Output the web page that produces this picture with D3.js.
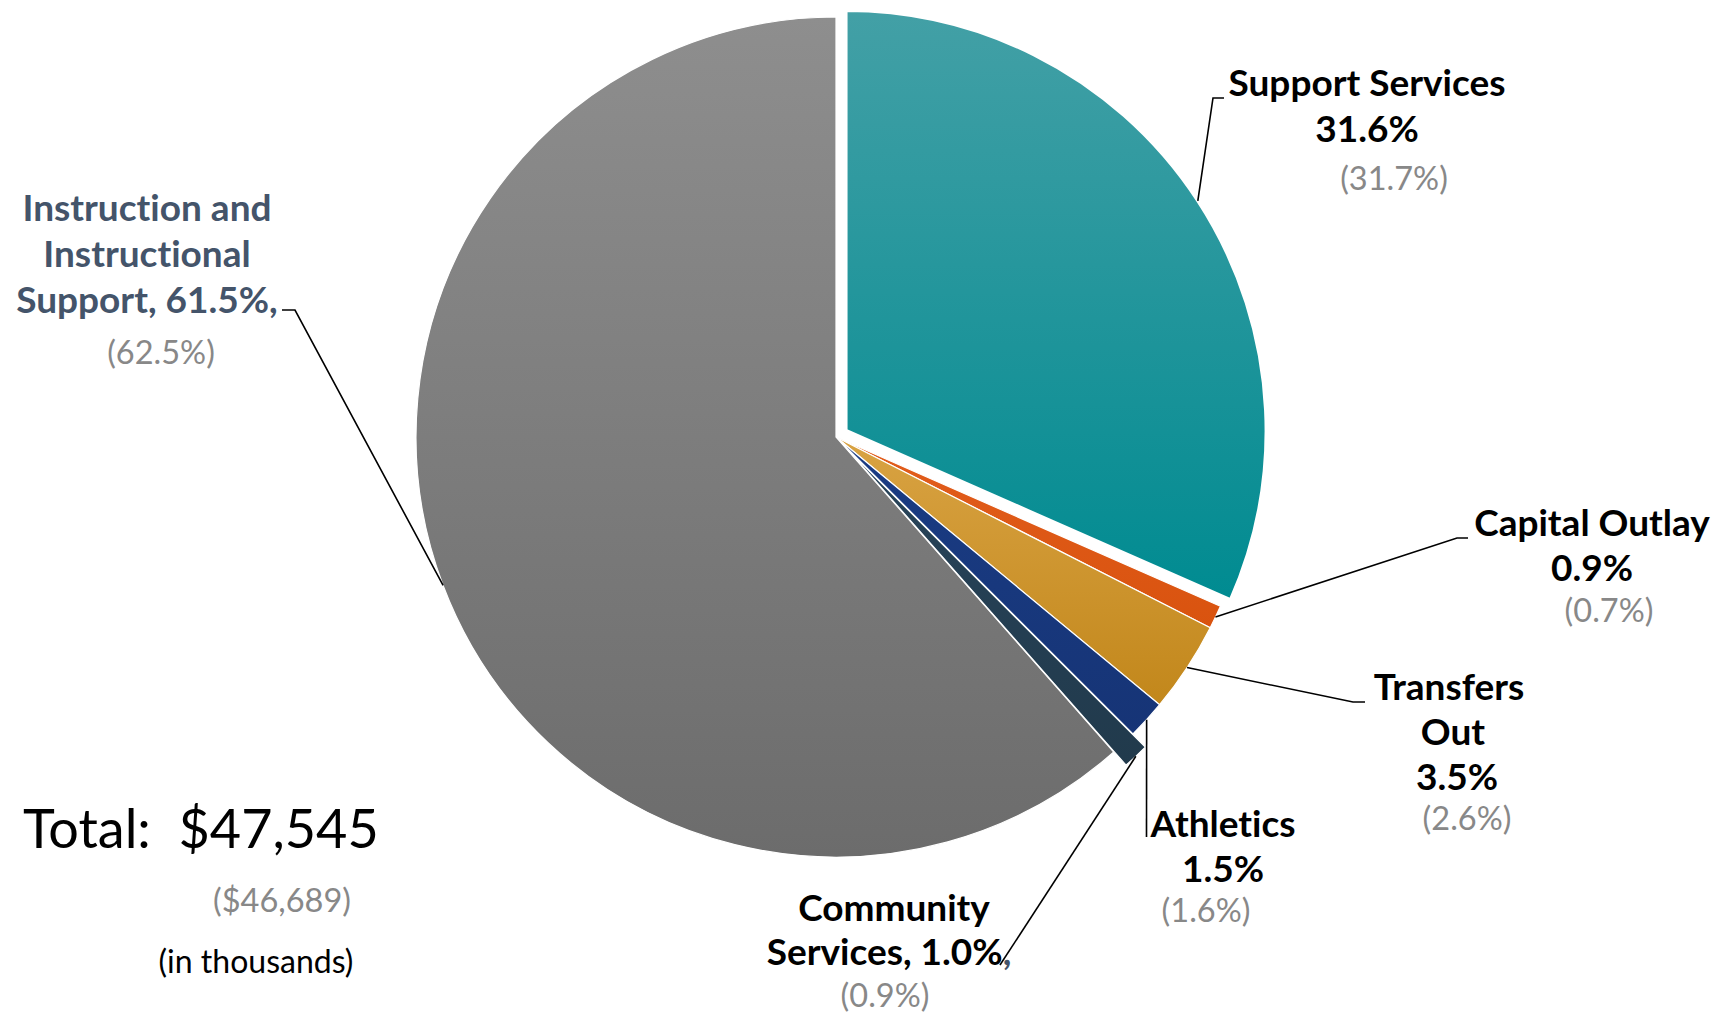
<!DOCTYPE html>
<html>
<head>
<meta charset="utf-8">
<script src="https://cdn.jsdelivr.net/npm/d3@7"></script>
<style>
  html, body { margin: 0; padding: 0; background: #fff; }
  svg { display: block; font-family: Lato, 'Open Sans', sans-serif; font-variant-ligatures: none; font-feature-settings: "liga" 0; }
  .lbl-bold { font-weight: 700; font-size: 37px; }
  .lbl-prior { font-size: 32.5px; fill: #888888; }
  .leader { fill: none; stroke: #000; stroke-width: 1.6; }
</style>
</head>
<body>
<div id="chart"></div>
<script>
// slices, clockwise from 12 o'clock
const categories = ['Support Services', 'Capital Outlay', 'Transfers Out', 'Athletics', 'Community Services', 'Instruction and Instructional Support'];
const currentPct = [31.6, 0.9, 3.5, 1.5, 1.0, 61.5];
const priorPct = [31.7, 0.7, 2.6, 1.6, 0.9, 62.5];
const totalCurrent = 47545;
const totalPrior = 46689;
const unitNote = '(in thousands)';

const width = 1735;
const height = 1015;
const cx = 836;
const cy = 437;
const radius = 420;

// gradient stops per slice (top -> bottom)
const sliceFills = [
  ['#43a0a6', '#008b91'],
  ['#e25d1c', '#d9530f'],
  ['#d9a343', '#c2871b'],
  ['#1a3c84', '#163476'],
  ['#28445a', '#213a4c'],
  ['#8e8e8e', '#6c6c6c'],
];

// label placement: text lines with centre x and baseline, elbow points of leader
const fmt = (v) => `${v.toFixed(1)}%`;
const labelLayout = [
  {
    lines: (i) => [
      { t: categories[i], x: 1367, y: 96 },
      { t: fmt(currentPct[i]), x: 1367, y: 142 },
    ],
    prior: { x: 1394, y: 190 },
    elbow: [[1213, 98], [1224, 98]],
    explode: 12,
  },
  {
    lines: (i) => [
      { t: categories[i], x: 1592, y: 536 },
      { t: fmt(currentPct[i]), x: 1592, y: 581 },
    ],
    prior: { x: 1609, y: 622 },
    elbow: [[1457, 538], [1468, 538]],
  },
  {
    lines: (i) => [
      { t: 'Transfers', x: 1449, y: 700 },
      { t: 'Out', x: 1453, y: 745 },
      { t: fmt(currentPct[i]), x: 1457, y: 790 },
    ],
    prior: { x: 1467, y: 830 },
    elbow: [[1353, 702], [1365, 702]],
  },
  {
    lines: (i) => [
      { t: categories[i], x: 1223, y: 837 },
      { t: fmt(currentPct[i]), x: 1223, y: 882 },
    ],
    prior: { x: 1206, y: 922 },
    elbow: [[1146.5, 837]],
  },
  {
    lines: (i) => [
      { t: 'Community', x: 894, y: 921 },
      { t: `Services, ${fmt(currentPct[i])}`, x: 889, y: 965, tail: ',' },
    ],
    prior: { x: 885, y: 1007 },
    elbow: [[1000, 965]],
    explode: 18,
  },
  {
    lines: (i) => [
      { t: 'Instruction and', x: 147, y: 221 },
      { t: 'Instructional', x: 147, y: 267 },
      { t: `Support, ${fmt(currentPct[i])},`, x: 147, y: 313 },
    ],
    prior: { x: 161, y: 364 },
    elbow: [[295, 310], [282, 310]],
    color: '#44546a',
  },
];

const slices = categories.map((name, i) => ({ name, value: currentPct[i], prior: priorPct[i], i }));

const svg = d3.select('#chart')
  .append('svg')
  .attr('width', width)
  .attr('height', height);

const defs = svg.append('defs');
sliceFills.forEach((stops, i) => {
  const g = defs.append('linearGradient')
    .attr('id', `fill-${i}`)
    .attr('x1', 0).attr('y1', 0)
    .attr('x2', 0).attr('y2', 1);
  g.append('stop').attr('offset', '0%').attr('stop-color', stops[0]);
  g.append('stop').attr('offset', '100%').attr('stop-color', stops[1]);
});

const pie = d3.pie()
  .sort(null)
  .value((d) => d.value);

const arcs = pie(slices);

const arc = d3.arc()
  .innerRadius(0)
  .outerRadius(radius);

const edgeArc = d3.arc()
  .innerRadius(radius)
  .outerRadius(radius);

const offsetOf = (d) => {
  const e = labelLayout[d.index].explode || 0;
  const a = (d.startAngle + d.endAngle) / 2;
  return [Math.sin(a) * e, -Math.cos(a) * e];
};

const pieGroup = svg.append('g')
  .attr('transform', `translate(${cx},${cy})`);

// exploded slices drawn last so they sit on top
const drawOrder = [...arcs].sort((a, b) => (labelLayout[a.index].explode || 0) - (labelLayout[b.index].explode || 0));

pieGroup.selectAll('path.slice')
  .data(drawOrder)
  .join('path')
  .attr('class', 'slice')
  .attr('transform', (d) => `translate(${offsetOf(d)})`)
  .attr('d', arc)
  .attr('fill', (d) => `url(#fill-${d.index})`)
  .attr('stroke', '#fff')
  .attr('stroke-width', (d) => (d.index === 0 ? 3 : 1.2))
  .attr('stroke-linejoin', 'miter');

// leader lines
const line = d3.line();
svg.append('g')
  .selectAll('path.leader')
  .data(arcs)
  .join('path')
  .attr('class', 'leader')
  .attr('d', (d) => {
    const lay = labelLayout[d.index];
    const [ox, oy] = offsetOf(d);
    const [px, py] = edgeArc.centroid(d);
    return line([[cx + ox + px, cy + oy + py], ...lay.elbow]);
  });

// labels
const labelGroup = svg.append('g');
arcs.forEach((d) => {
  const lay = labelLayout[d.index];
  lay.lines(d.index).forEach((ln) => {
    const txt = labelGroup.append('text')
      .attr('class', 'lbl-bold')
      .attr('x', ln.x)
      .attr('y', ln.y)
      .attr('text-anchor', 'middle')
      .attr('fill', lay.color || '#000');
    txt.append('tspan').text(ln.t);
    if (ln.tail) txt.append('tspan').attr('fill', '#44546a').text(ln.tail);
  });
  labelGroup.append('text')
    .attr('class', 'lbl-prior')
    .attr('x', lay.prior.x)
    .attr('y', lay.prior.y)
    .attr('text-anchor', 'middle')
    .text(`(${fmt(d.data.prior)})`);
});

// totals
const money = d3.format(',');
svg.append('text')
  .attr('x', 23)
  .attr('y', 848)
  .attr('font-size', 54)
  .attr('fill', '#000')
  .style('white-space', 'pre')
  .text(`Total:  $${money(totalCurrent)}`);

svg.append('text')
  .attr('class', 'lbl-prior')
  .attr('x', 282)
  .attr('y', 912)
  .attr('text-anchor', 'middle')
  .text(`($${money(totalPrior)})`);

svg.append('text')
  .attr('x', 256)
  .attr('y', 973)
  .attr('text-anchor', 'middle')
  .attr('font-size', 32)
  .attr('fill', '#000')
  .text(unitNote);
</script>
</body>
</html>
